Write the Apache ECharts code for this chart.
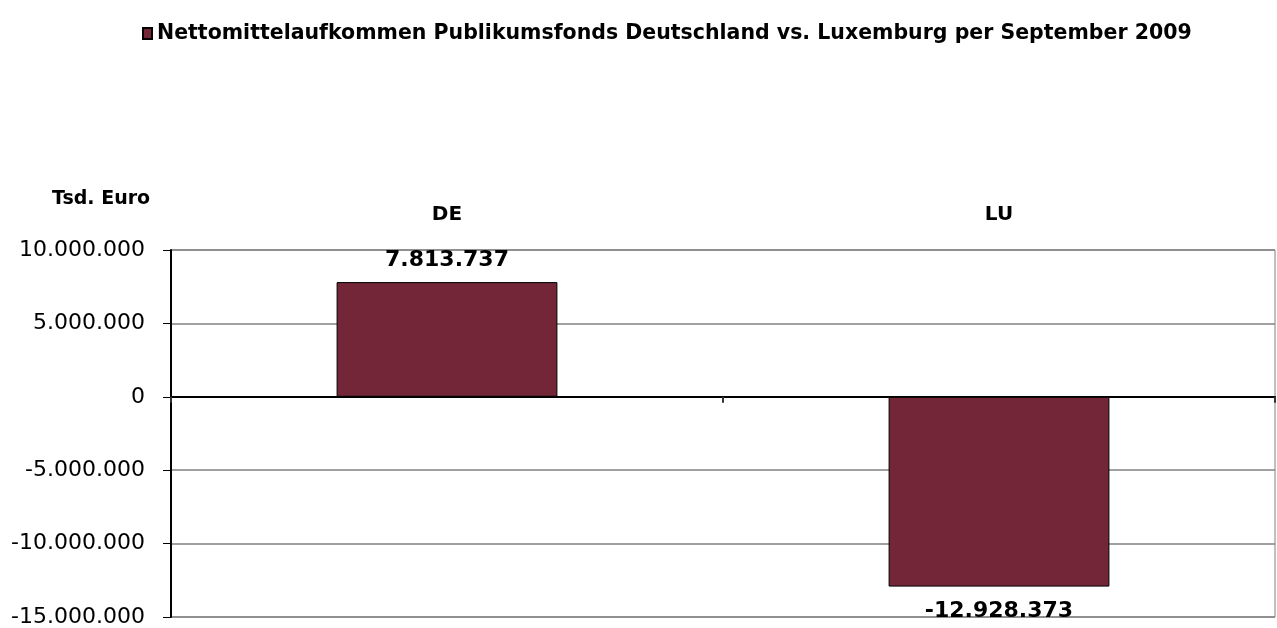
<!DOCTYPE html>
<html>
<head>
<meta charset="utf-8">
<script src="https://cdn.jsdelivr.net/npm/echarts@6/dist/echarts.min.js"></script>
<style>
html, body { margin: 0; padding: 0; background: #fff; }
#main { width: 1277px; height: 628px; }
</style>
</head>
<body>
<div id="main"></div>
<script>
var categories = ['DE', 'LU'];
var values = [7813737, -12928373];
var seriesName = 'Nettomittelaufkommen Publikumsfonds Deutschland vs. Luxemburg per September 2009';
var unitLabel = 'Tsd. Euro';

function fmt(v) {
    var s = Math.abs(v).toString().replace(/\B(?=(\d{3})+(?!\d))/g, '.');
    return (v < 0 ? '-' : '') + s;
}

var font = '"DejaVu Sans", sans-serif';
var myChart = echarts.init(document.getElementById('main'));

myChart.setOption({
    animation: false,
    title: {
        text: unitLabel,
        left: 47,
        top: 185,
        textStyle: { fontFamily: font, fontSize: 19, fontWeight: 'bold', color: '#000' }
    },
    legend: {
        data: [seriesName],
        top: 18,
        left: 137,
        icon: 'rect',
        itemWidth: 9,
        itemHeight: 11,
        itemGap: 4,
        textStyle: { fontFamily: font, fontSize: 20.5, fontWeight: 'bold', color: '#000' }
    },
    grid: {
        left: 171,
        right: 2,
        top: 250,
        bottom: 11,
        show: true,
        borderColor: '#808080',
        borderWidth: 1
    },
    xAxis: [
        {
            type: 'category',
            data: categories,
            axisLine: { onZero: true, lineStyle: { color: '#000', width: 2 } },
            axisTick: { show: true, length: 6, lineStyle: { color: '#333', width: 2 } },
            axisLabel: { show: false }
        },
        {
            type: 'category',
            data: categories,
            position: 'top',
            axisLine: { show: false, onZero: false },
            axisTick: { show: false },
            axisLabel: {
                margin: 25,
                fontFamily: font, fontSize: 20, fontWeight: 'bold', color: '#000'
            }
        }
    ],
    yAxis: {
        type: 'value',
        min: -15000000,
        max: 10000000,
        interval: 5000000,
        axisLine: { show: true, lineStyle: { color: '#000', width: 2 } },
        axisTick: { show: true, length: 8, lineStyle: { color: '#000', width: 1 } },
        axisLabel: {
            margin: 26,
            fontFamily: font, fontSize: 22, color: '#000',
            formatter: function (v) { return fmt(v); }
        },
        splitLine: { lineStyle: { color: '#808080', width: 1.5 } }
    },
    series: [{
        name: seriesName,
        type: 'bar',
        barWidth: '40%',
        data: values.map(function (v) {
            return {
                value: v,
                label: { position: v < 0 ? 'bottom' : 'top', distance: v < 0 ? 14 : 11 }
            };
        }),
        itemStyle: { color: '#722637', borderColor: '#000', borderWidth: 1 },
        label: {
            show: true,
            fontFamily: font, fontSize: 22, fontWeight: 'bold', color: '#000',
            formatter: function (p) { return fmt(p.value); }
        }
    }]
});
</script>
</body>
</html>
